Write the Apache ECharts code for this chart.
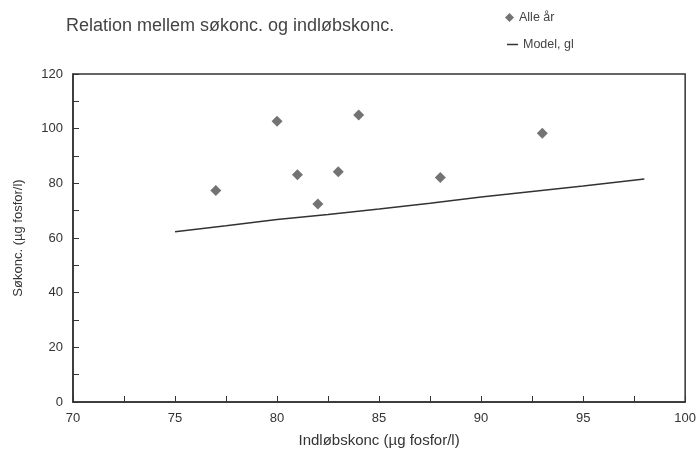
<!DOCTYPE html>
<html>
<head>
<meta charset="utf-8">
<script src="https://cdn.jsdelivr.net/npm/echarts@6/dist/echarts.min.js"></script>
<style>html,body{margin:0;padding:0;background:#fff}#main{width:699px;height:453px}</style>
</head>
<body>
<div id="main"></div>
<script>
// malinger: indløb vs. sø (µg fosfor/l)
var inflow = [77, 80, 81, 82, 83, 84, 88, 93];
var lakeConc = [77.4, 102.7, 83.1, 72.4, 84.2, 105, 82.1, 98.3];
// model-kurve, aflæst
var modelX = [75, 77.5, 80, 82.5, 85, 87.5, 90, 92.5, 95, 98];
var modelY = [62.3, 64.5, 66.8, 68.6, 70.6, 72.7, 75, 77, 79, 81.6];

var myChart = echarts.init(document.getElementById('main'));
var font = 'Liberation Sans';
var legendText = { fontSize: 12.5, color: '#444', fontFamily: font };
var option = {
    textStyle: { fontFamily: font },
    title: {
        text: 'Relation mellem søkonc. og indløbskonc.',
        left: 61, top: 12,
        textStyle: { fontSize: 18, fontWeight: 'normal', color: '#444', fontFamily: font }
    },
    legend: [
        {
            left: 500, top: 6, itemWidth: 9, itemHeight: 9, itemGap: 4,
            textStyle: legendText,
            data: [{ name: 'Alle år', icon: 'diamond' }]
        },
        {
            left: 502, top: 33, itemWidth: 11, itemHeight: 1.5, itemGap: 4,
            textStyle: legendText,
            data: [{ name: 'Model, gl', icon: 'rect' }]
        }
    ],
    grid: {
        left: 73, right: 13, top: 74, bottom: 50,
        show: true, borderColor: '#333', borderWidth: 1.5
    },
    xAxis: {
        type: 'value', min: 70, max: 100, interval: 2.5,
        name: 'Indløbskonc (µg fosfor/l)',
        nameLocation: 'middle', nameGap: 31,
        nameTextStyle: { fontSize: 15, color: '#333' },
        axisLine: { lineStyle: { color: '#333', width: 1.5 } },
        axisTick: { inside: true, length: 6, lineStyle: { color: '#333' } },
        axisLabel: {
            fontSize: 13, color: '#333', margin: 10,
            formatter: function (v) { return v % 5 === 0 ? v : ''; }
        },
        splitLine: { show: false }
    },
    yAxis: {
        type: 'value', min: 0, max: 120, interval: 10,
        name: 'Søkonc. (µg fosfor/l)',
        nameLocation: 'middle', nameGap: 48,
        nameTextStyle: { fontSize: 13, color: '#333' },
        axisLine: { show: true, lineStyle: { color: '#333', width: 1.5 } },
        axisTick: { show: true, inside: true, length: 6, lineStyle: { color: '#333' } },
        axisLabel: {
            fontSize: 13, color: '#333', margin: 10,
            formatter: function (v) { return v % 20 === 0 ? v : ''; }
        },
        splitLine: { show: false }
    },
    series: [
        {
            name: 'Alle år', type: 'scatter',
            symbol: 'diamond', symbolSize: 11,
            itemStyle: { color: '#505050' },
            data: inflow.map(function (x, i) { return [x, lakeConc[i]]; })
        },
        {
            name: 'Model, gl', type: 'line',
            symbol: 'none', smooth: false,
            lineStyle: { color: '#333', width: 1.5 },
            itemStyle: { color: '#333' },
            data: modelX.map(function (x, i) { return [x, modelY[i]]; })
        }
    ]
};
myChart.setOption(option);
</script>
</body>
</html>
